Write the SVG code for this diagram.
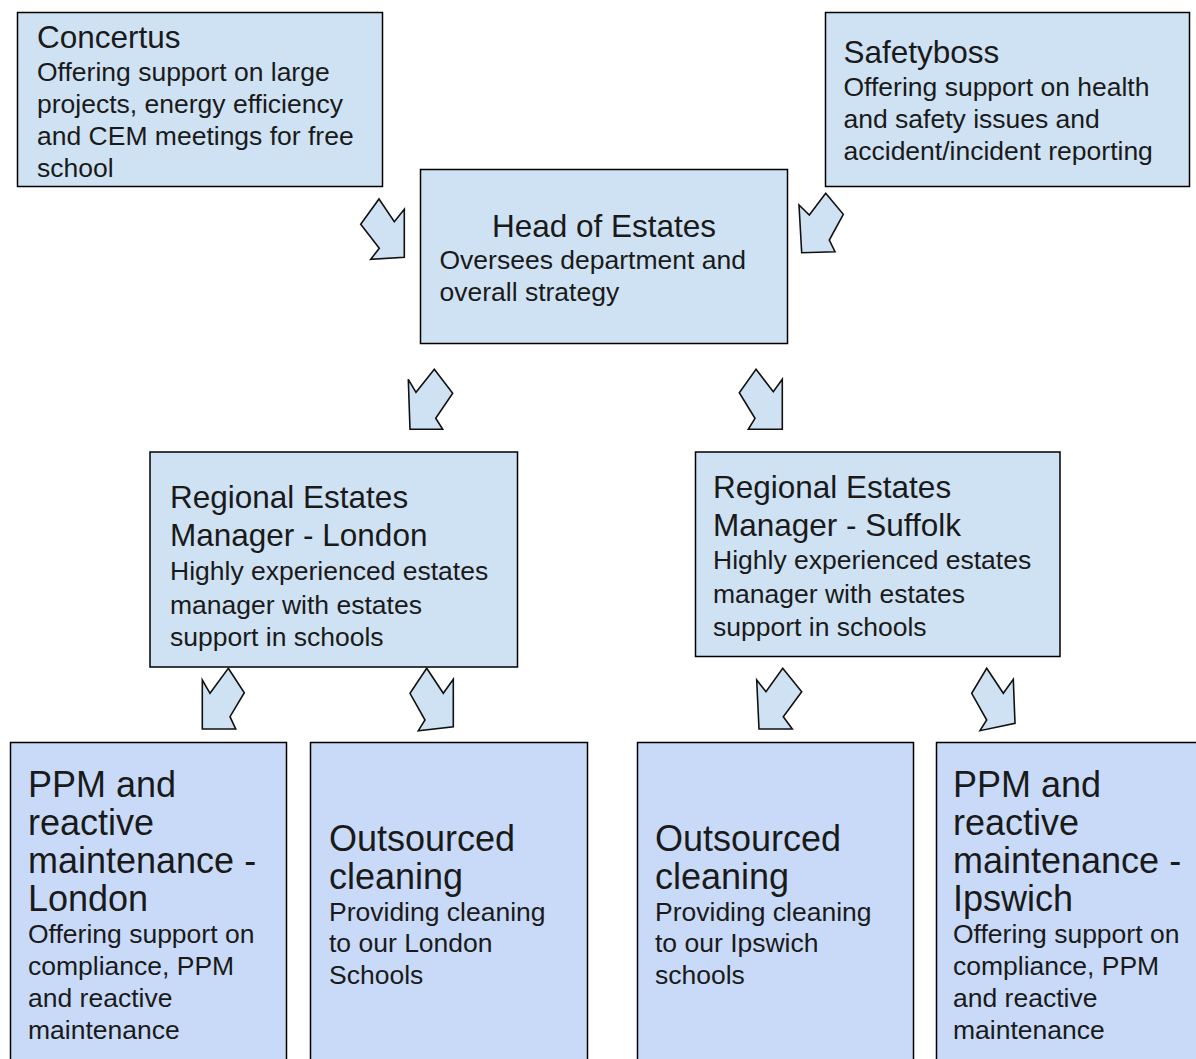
<svg xmlns="http://www.w3.org/2000/svg" width="1196" height="1059" viewBox="0 0 1196 1059">
<style>
.box{fill:#cfe2f3;stroke:#000;stroke-width:1.5}
.box2{fill:#c9daf8;stroke:#000;stroke-width:1.5}
.arr{fill:#cfe2f3;stroke:#111;stroke-width:1.6;stroke-linejoin:miter}
text{font-family:"Liberation Sans",Arial,sans-serif;fill:#1a1a1a}
.t{font-size:31.5px}
.tb{font-size:36px}
.b{font-size:26.5px}
</style>
<rect width="1196" height="1059" fill="#fff"/>
<g id="concertus">
<rect class="box" x="17.5" y="12.5" width="365" height="174"/>
<text class="t" x="37" y="48">Concertus</text>
<text class="b" x="37" y="81">Offering support on large</text>
<text class="b" x="37" y="113">projects, energy efficiency</text>
<text class="b" x="37" y="145">and CEM meetings for free</text>
<text class="b" x="37" y="177">school</text>
</g>
<g id="safetyboss">
<rect class="box" x="825.5" y="12.5" width="364" height="174"/>
<text class="t" x="843.5" y="63">Safetyboss</text>
<text class="b" x="843.5" y="96">Offering support on health</text>
<text class="b" x="843.5" y="128">and safety issues and</text>
<text class="b" x="843.5" y="160">accident/incident reporting</text>
</g>
<g id="head">
<rect class="box" x="420.5" y="169.5" width="367" height="174"/>
<text class="t" x="604" y="237" text-anchor="middle">Head of Estates</text>
<text class="b" x="439.5" y="269">Oversees department and</text>
<text class="b" x="439.5" y="301">overall strategy</text>
</g>
<g id="reg-london">
<rect class="box" x="150" y="452" width="367.5" height="215"/>
<text class="t" x="170" y="507.5">Regional Estates</text>
<text class="t" x="170" y="546">Manager - London</text>
<text class="b" x="170" y="580">Highly experienced estates</text>
<text class="b" x="170" y="613.5">manager with estates</text>
<text class="b" x="170" y="646">support in schools</text>
</g>
<g id="reg-suffolk">
<rect class="box" x="695.5" y="452" width="364.5" height="204.5"/>
<text class="t" x="713" y="498">Regional Estates</text>
<text class="t" x="713" y="536">Manager - Suffolk</text>
<text class="b" x="713" y="569">Highly experienced estates</text>
<text class="b" x="713" y="603">manager with estates</text>
<text class="b" x="713" y="636">support in schools</text>
</g>
<g id="ppm-london">
<rect class="box2" x="10.5" y="742.5" width="276" height="330"/>
<text class="tb" x="28" y="797">PPM and</text>
<text class="tb" x="28" y="835">reactive</text>
<text class="tb" x="28" y="873">maintenance -</text>
<text class="tb" x="28" y="911">London</text>
<text class="b" x="28" y="943">Offering support on</text>
<text class="b" x="28" y="975">compliance, PPM</text>
<text class="b" x="28" y="1007">and reactive</text>
<text class="b" x="28" y="1039">maintenance</text>
</g>
<g id="cleaning-london">
<rect class="box2" x="310.5" y="742.5" width="277" height="330"/>
<text class="tb" x="329" y="851">Outsourced</text>
<text class="tb" x="329" y="889">cleaning</text>
<text class="b" x="329" y="921">Providing cleaning</text>
<text class="b" x="329" y="952">to our London</text>
<text class="b" x="329" y="984">Schools</text>
</g>
<g id="cleaning-ipswich">
<rect class="box2" x="637.5" y="742.5" width="276" height="330"/>
<text class="tb" x="655" y="851">Outsourced</text>
<text class="tb" x="655" y="889">cleaning</text>
<text class="b" x="655" y="921">Providing cleaning</text>
<text class="b" x="655" y="952">to our Ipswich</text>
<text class="b" x="655" y="984">schools</text>
</g>
<g id="ppm-ipswich">
<rect class="box2" x="936.5" y="742.5" width="270" height="330"/>
<text class="tb" x="953" y="797">PPM and</text>
<text class="tb" x="953" y="835">reactive</text>
<text class="tb" x="953" y="873">maintenance -</text>
<text class="tb" x="953" y="911">Ipswich</text>
<text class="b" x="953" y="943">Offering support on</text>
<text class="b" x="953" y="975">compliance, PPM</text>
<text class="b" x="953" y="1007">and reactive</text>
<text class="b" x="953" y="1039">maintenance</text>
</g>
<g id="connectors">
<polygon class="arr" points="379,199 394.3,221.7 404.3,209.3 404.3,257.3 370.7,259.3 379.3,248.3 360.7,224.3"/>
<polygon class="arr" points="825.7,193.3 843.3,214.3 829.3,240 835,251.7 801.7,252.7 799,205 809.3,215"/>
<polygon class="arr" points="434.3,369.3 452.7,393.3 435.7,418.3 442.7,429.3 410,429.3 408.3,379.3 416,392.3"/>
<polygon class="arr" points="756,369.3 773.3,391.7 782.3,379.3 782.3,429.3 748.3,429.3 755,418.3 739.3,392.7"/>
<polygon class="arr" points="228.3,668.3 244.3,692.7 230,716.7 235.7,729 202.3,729 202.3,680 210,693.3"/>
<polygon class="arr" points="426.7,668.3 443.3,693.3 453.3,679.3 453.3,726.7 418.3,730.7 425,720 410,693.3"/>
<polygon class="arr" points="782.7,668.3 801.7,691.7 783.3,716.7 792.3,729 759,729 756.7,680 766,691.7"/>
<polygon class="arr" points="986.7,668.3 1003.3,693.3 1013.3,679.3 1015,723.3 980,730.7 986.7,720 971.7,693.3"/>
</g>
</svg>
